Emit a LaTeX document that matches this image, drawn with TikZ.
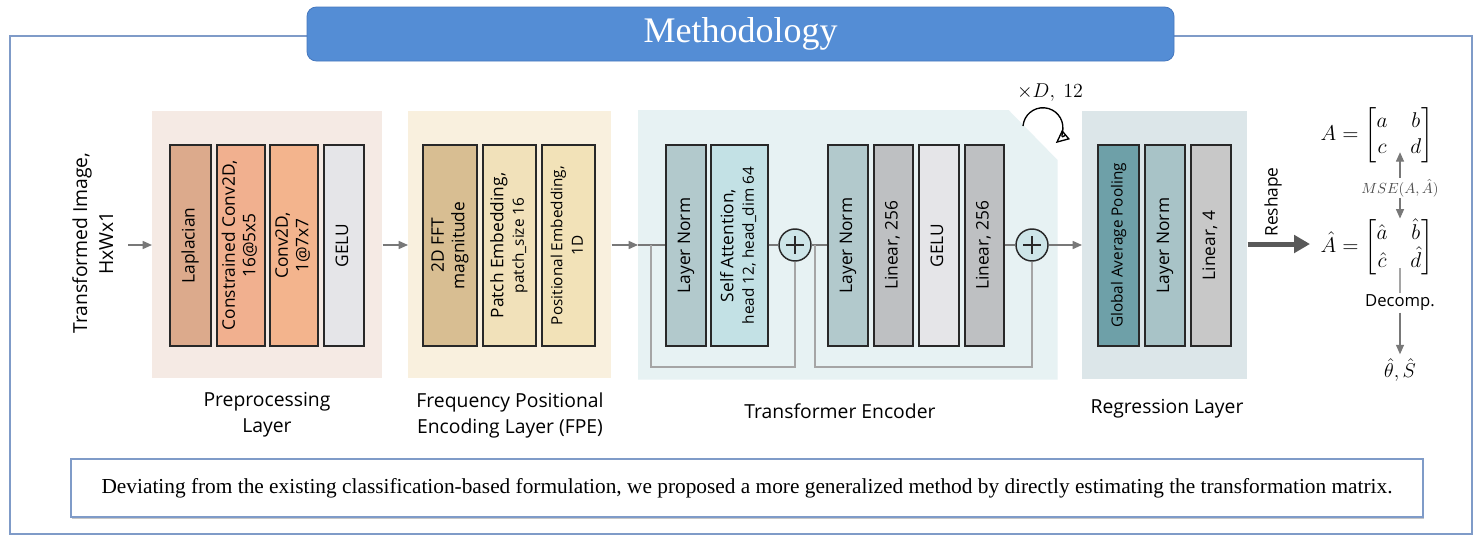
\RequirePackage{fix-cm}
\documentclass[tikz,border=0pt]{standalone}
\usepackage{amsmath}
\usepackage{graphicx}
\usepackage{fontspec}
\setmainfont{Liberation Serif}
\setsansfont{Open Sans}
\usetikzlibrary{arrows.meta,calc}

\definecolor{framec}{RGB}{127,155,200}
\definecolor{titlec}{RGB}{84,141,213}
\definecolor{titled}{RGB}{70,120,190}
\definecolor{prebg}{RGB}{245,234,228}
\definecolor{fpebg}{RGB}{249,240,222}
\definecolor{transbg}{RGB}{231,242,243}
\definecolor{regbg}{RGB}{220,230,233}
\definecolor{lapc}{RGB}{220,170,140}
\definecolor{conc}{RGB}{241,176,143}
\definecolor{convc}{RGB}{243,180,141}
\definecolor{geluc}{RGB}{229,229,232}
\definecolor{fftc}{RGB}{216,190,146}
\definecolor{patchc}{RGB}{241,225,186}
\definecolor{posc}{RGB}{242,226,184}
\definecolor{lnc}{RGB}{178,201,204}
\definecolor{sac}{RGB}{195,225,229}
\definecolor{linc}{RGB}{190,192,194}
\definecolor{plusc}{RGB}{205,229,232}
\definecolor{gapc}{RGB}{110,160,168}
\definecolor{ln2c}{RGB}{168,195,199}
\definecolor{lin4c}{RGB}{200,200,200}
\definecolor{boxc}{RGB}{40,40,40}
\definecolor{linec}{RGB}{120,120,120}
\definecolor{skipc}{RGB}{165,165,165}
\definecolor{reshc}{RGB}{89,89,89}

\newcommand\vt[1]{\rotatebox{90}{\begin{tabular}{@{}c@{}}#1\end{tabular}}}
\newcommand\mf{\sffamily\fontsize{13}{15.5}\selectfont}
\newcommand\smf{\sffamily\fontsize{11.5}{14}\selectfont}
\newcommand\lf{\sffamily\fontsize{14.5}{19.5}\selectfont}
\newcommand\mathf{\fontsize{16}{19.5}\selectfont\setlength\arraycolsep{8.5pt}}

\tikzset{
  blk/.style={draw=boxc, line width=1.1pt, minimum height=150.75pt, inner sep=0pt, font=\mf},
  bgbox/.style={inner sep=0pt, anchor=north west},
  arr/.style={draw=linec, line width=1.1pt, -{Triangle[length=7pt,width=6pt]}},
  ln/.style={draw=linec, line width=1.1pt},
  skip/.style={draw=skipc, line width=0.9pt},
  lbl/.style={font=\lf, align=center, inner sep=0pt},
  plusn/.style={circle, draw=boxc, line width=1.1pt, fill=plusc, minimum size=24pt, inner sep=0pt},
}

\newcommand\blk[5]{\node[blk,fill=#4,minimum width={(#3-#2)*0.75pt}] (#1) at ({(#2+#3)/2},245.5) {\vt{#5}};}
\newcommand\bg[6]{\node[bgbox,fill=#6,minimum width={(#3-#2)*0.75pt},minimum height={(#5-#4)*0.75pt}] (#1) at (#2,#4) {};}

\begin{document}
\begin{tikzpicture}[x=0.75pt,y=-0.75pt]
\useasboundingbox (0,0) rectangle (1481,540);
\fill[white] (0,0) rectangle (1481,540);

% outer frame and title
\draw[framec, line width=0.9pt] (10,36) rectangle (1472,534);
\node[fill=titlec, draw=titled, line width=0.6pt, rounded corners=7pt, minimum width={867*0.75pt}, minimum height={54*0.75pt}, inner sep=0pt, text=white, font=\rmfamily\fontsize{27}{30}\selectfont] (title) at (740.5,34) {Methodology};

% backgrounds
\bg{pre}{152}{382}{111}{378}{prebg}
\bg{fpe}{408}{611}{111}{378}{fpebg}
\bg{reg}{1082}{1247}{111}{379}{regbg}
\node[bgbox, minimum width={(1057-638)*0.75pt}, minimum height={(379-110)*0.75pt}] (trans) at (638,110) {};
\fill[transbg] (trans.north west) -- ([xshift=-36.75pt]trans.north east) -- ([yshift=-37.5pt]trans.north east) -- (trans.south east) -- (trans.south west) -- cycle;

% input
\node[lbl] (inp) at (95,243) {\vt{Transformed Image,\\HxWx1}};
\coordinate (inA) at (128,245);
\draw[arr] (inA) -- (inA -| pre.west);

% preprocessing blocks
\blk{lap}{170}{211}{lapc}{Laplacian}
\blk{con}{217}{265}{conc}{Constrained Conv2D,\\16@5x5}
\blk{conv}{270}{318}{convc}{Conv2D,\\1@7x7}
\blk{gelu1}{324}{364}{geluc}{GELU}

\draw[arr] (pre.east |- inA) -- (fpe.west |- inA);

% FPE blocks
\blk{fft}{423}{477}{fftc}{2D FFT\\magnitude}
\blk{patch}{483}{536}{patchc}{Patch Embedding,\\\smf patch\_size 16}
\blk{pos}{542}{595}{posc}{\smf Positional Embedding,\\\smf 1D}

\draw[arr] (fpe.east |- inA) -- (trans.west |- inA);

% transformer
\blk{ln1}{666}{706}{lnc}{Layer Norm}
\blk{sa}{711}{768}{sac}{Self Attention,\\\smf head 12, head\_dim 64}
\node[plusn] (p1) at (795,245) {};
\blk{ln2}{828}{868}{lnc}{Layer Norm}
\blk{lin1}{874}{913}{linc}{Linear, 256}
\blk{gelu2}{919}{959}{geluc}{GELU}
\blk{lin2}{965}{1004}{linc}{Linear, 256}
\node[plusn] (p2) at (1032,245) {};
\foreach \p in {p1,p2}{
  \draw[boxc, line width=1.3pt] ([xshift=-6.5pt]\p.center) -- ([xshift=6.5pt]\p.center);
  \draw[boxc, line width=1.3pt] ([yshift=-6.5pt]\p.center) -- ([yshift=6.5pt]\p.center);
}
\draw[ln] (trans.west |- inA) -- (ln1.west |- inA);
\draw[ln] (sa.east |- inA) -- (p1.west);
\draw[ln] (p1.east) -- (ln2.west |- inA);
\draw[ln] (lin2.east |- inA) -- (p2.west);
\coordinate (s1) at (651,245);
\coordinate (s2) at (815,245);
\draw[skip] (s1) -- (651,367) -| (p1.south);
\draw[skip] (s2) -- (815,367) -| (p2.south);
\draw[arr] (p2.east) -- (reg.west |- p2.east);

% loop
\node[font=\fontsize{15}{18}\selectfont, inner sep=0pt] (rep) at (1050,93) {$\times D,\ 12$};
\coordinate (loopS) at (1023,126);
\draw[black, line width=1pt, -{Triangle[open,length=10pt,width=9pt]}] (loopS) arc[start angle=175, end angle=-50, radius=15pt];

% regression
\blk{gap}{1098}{1139}{gapc}{\smf Global Average Pooling}
\blk{ln3}{1145}{1185}{ln2c}{Layer Norm}
\blk{lin3}{1191}{1231}{lin4c}{Linear, 4}

% reshape and matrices
\node[font=\mathf, inner sep=0pt] (A) at (1377,135) {$A=\begin{bmatrix}a&b\\c&d\end{bmatrix}$};
\node[font=\mathf, inner sep=0pt] (Ah) at (1377,247) {$\hat{A}=\begin{bmatrix}\hat{a}&\hat{b}\\\hat{c}&\hat{d}\end{bmatrix}$};
\coordinate (resE) at (1310,244);
\draw[draw=reshc, line width=3.75pt, -{Triangle[length=12pt,width=13pt]}] (reg.east |- resE) -- (resE);
\node[font=\mf, inner sep=0pt] (resh) at (1273,202) {\rotatebox{90}{Reshape}};

\node[font=\fontsize{11}{13}\selectfont, text=black!70, fill=white, inner sep=1pt] (mse) at (1400,188) {$MSE(A,\hat{A})$};
\draw[arr, line width=0.8pt] (mse.north) -- ([yshift=8pt]mse.north |- A.south);
\draw[arr, line width=0.8pt] (mse.south) -- (mse.south |- Ah.north);

\node[font=\fontsize{12.5}{15}\selectfont\sffamily, fill=white, inner sep=1pt] (dec) at (1400,303) {Decomp.};
\node[font=\fontsize{15}{18}\selectfont, inner sep=0pt] (th) at (1400,370) {$\hat{\theta},\hat{S}$};
\draw[ln, draw=skipc, line width=0.8pt] (dec.north) -- ([yshift=6pt]dec.north |- Ah.south);
\draw[arr, line width=0.8pt, shorten >=3pt] (dec.south) -- (th.north);

% labels
\node[lbl] (lpre) at (267,415) {Preprocessing\\Layer};
\node[lbl] (lfpe) at (510,415) {Frequency Positional\\Encoding Layer (FPE)};
\node[lbl] (ltr) at (840,411) {Transformer Encoder};
\node[lbl] (lreg) at (1167,409) {Regression Layer};

% caption
\fill[black!22] (72,461) rectangle (1424,519);
\node[draw=framec, fill=white, line width=0.9pt, minimum width={1352*0.75pt}, minimum height={58*0.75pt}, inner sep=0pt, font=\rmfamily\fontsize{16}{19}\selectfont] (cap) at (747,488) {Deviating from the existing classification-based formulation, we proposed a more generalized method by directly estimating the transformation matrix.};
\end{tikzpicture}
\end{document}
